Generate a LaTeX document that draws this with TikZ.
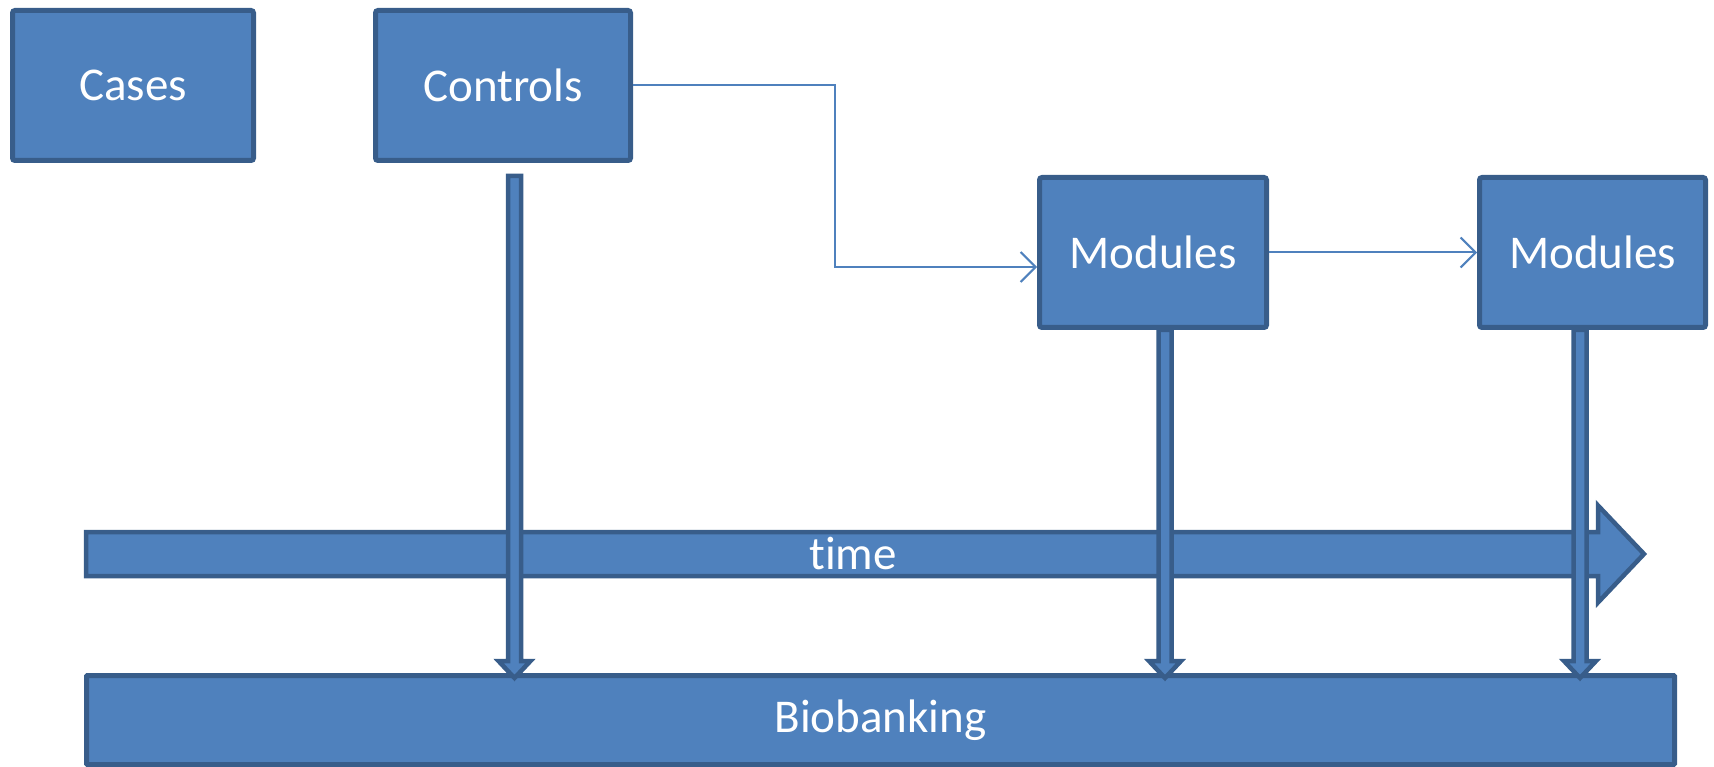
\documentclass[tikz,border=0pt]{standalone}
\usepackage{fontspec}
\setmainfont{Carlito}[Ligatures=NoCommon]
\usetikzlibrary{arrows.meta,calc}
\definecolor{boxfill}{HTML}{4F81BD}
\definecolor{boxline}{HTML}{385D8A}
\tikzset{
  box/.style={draw=boxline, fill=boxfill, line width=5pt, rounded corners=2.5pt,
    inner sep=0pt, text=white, font=\fontsize{47}{56}\selectfont},
  bigshape/.style={draw=boxline, fill=boxfill, line width=4.5pt, line join=miter},
  conn/.style={draw=boxfill, line width=2pt, -{Straight Barb[length=15pt,width=30pt,line width=2pt]}},
  lbl/.style={text=white, font=\fontsize{47}{56}\selectfont, inner sep=0pt},
}
\newcommand{\vbararrow}[2]{%
  \filldraw[bigshape] ($(#1)+(-6.5,0)$) -- ($(#1)+(6.5,0)$) -- ($(#2)+(6.5,-17)$) --
    ($(#2)+(16,-17)$) -- (#2) -- ($(#2)+(-16,-17)$) -- ($(#2)+(-6.5,-17)$) -- cycle;}
\begin{document}
\begin{tikzpicture}[x=1pt,y=-1pt]
\useasboundingbox (0,0) rectangle (1714,767);
% boxes
\node[box, minimum width=241pt, minimum height=150pt] (cases) at (133,85.5) {Cases};
\node[box, minimum width=255pt, minimum height=150pt] (controls) at (503,85.5) {Controls};
\node[box, minimum width=227pt, minimum height=150pt] (mod1) at (1153,252.5) {Modules};
\node[box, minimum width=226pt, minimum height=150pt] (mod2) at (1592.5,252.5) {Modules};
\node[box, rounded corners=1pt, minimum width=1588pt, minimum height=89pt] (bio) at (880.5,720) {Biobanking};
% time arrow
\filldraw[bigshape] (86,532) -- (1598,532) -- (1598,505.5) -- (1644,554) -- (1598,602.5) -- (1598,576) -- (86,576) -- cycle;
\node[lbl] (time) at (853,554) {time};
% connectors
\coordinate (c1) at (835,267);
\draw[conn] (controls.east) -| (c1) -- (c1 -| mod1.west);
\draw[conn] (mod1.east) -- (mod2.west);
% vertical arrows
\coordinate (s1) at (514.5,176);
\coordinate (t1) at (514.5,678);
\coordinate (s2) at (1165,330);
\coordinate (t2) at (1165,678);
\coordinate (s3) at (1580,330);
\coordinate (t3) at (1580,678);
\vbararrow{s1}{t1}
\vbararrow{s2}{t2}
\vbararrow{s3}{t3}
\end{tikzpicture}
\end{document}
